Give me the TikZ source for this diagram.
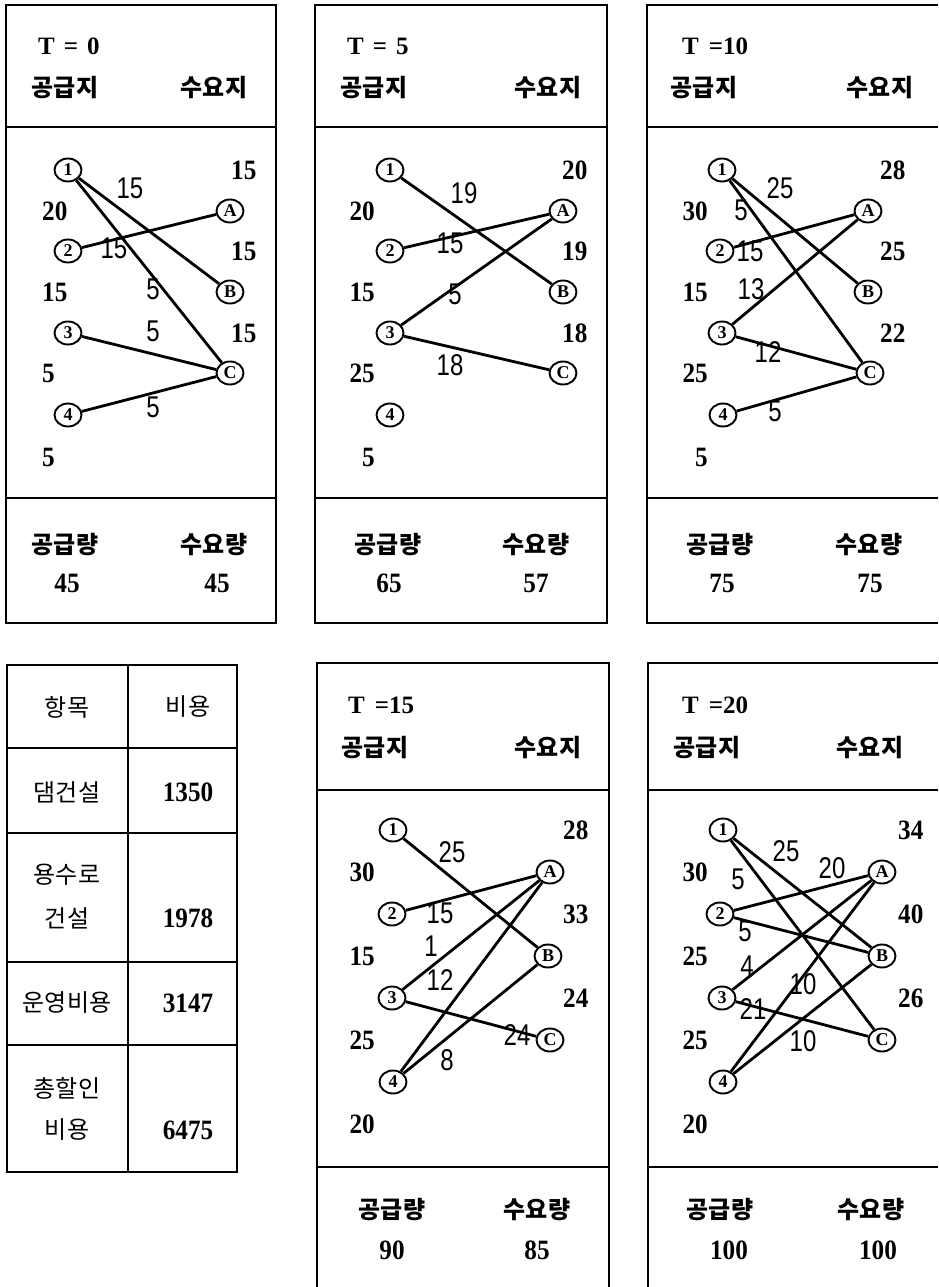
\documentclass[tikz,border=0pt]{standalone}
\usepackage{fontspec}
\usetikzlibrary{shapes.geometric}
\newfontfamily\krfam[LetterSpace=2]{Noto Sans CJK KR}
\newfontfamily\lsserif[FakeStretch=0.9]{Liberation Serif}
\newfontfamily\lsserifT{Liberation Serif}
\newfontfamily\lssans[FakeStretch=0.8]{Liberation Sans}
\newcommand\rkNum{\lsserif\bfseries\fontsize{28}{28}\selectfont}
\newcommand\rkTtl{\lsserifT\bfseries\fontsize{25}{25}\selectfont}
\newcommand\rkLbl{\lssans\fontsize{30}{30}\selectfont}
\newcommand\rkKor{\krfam\bfseries\fontsize{24}{24}\selectfont}
\newcommand\rkKorT{\krfam\fontsize{24}{24}\selectfont}
\newcommand\rkSite{\lsserifT\bfseries\fontsize{18}{18}\selectfont}
\tikzset{
  frame/.style={line width=1.7pt},
  site/.style={draw, ellipse, line width=1.9pt, minimum width=27pt, minimum height=23pt, inner sep=0pt, font=\rkSite},
  flow/.style={line width=2.8pt},
  lbl/.style={font=\rkLbl, inner sep=0pt},
  qty/.style={font=\rkNum, inner sep=0pt},
  kor/.style={font=\rkKor, inner sep=0pt},
  cell/.style={font=\rkKorT, inner sep=0pt},
  ttl/.style={font=\rkTtl, anchor=west, inner sep=0pt},
}
\begin{document}
\begin{tikzpicture}[x=1pt,y=-1pt]
\useasboundingbox (0,0) rectangle (938,1287);
\fill[white] (0,0) rectangle (938,1287);

% ---------- frames ----------
\draw[frame] (6,5) rectangle (276,623);
\draw[frame] (6,127) -- (276,127);
\draw[frame] (6,498) -- (276,498);
\draw[frame] (315,5) rectangle (607,623);
\draw[frame] (315,127) -- (607,127);
\draw[frame] (315,498) -- (607,498);
\draw[frame] (938,5) -- (647,5) -- (647,623) -- (938,623);
\draw[frame] (647,127) -- (938,127);
\draw[frame] (647,498) -- (938,498);
\draw[frame] (317,1287) -- (317,663) -- (609,663) -- (609,1287);
\draw[frame] (317,790) -- (609,790);
\draw[frame] (317,1167) -- (609,1167);
\draw[frame] (648,1287) -- (648,663) -- (938,663);
\draw[frame] (648,790) -- (938,790);
\draw[frame] (648,1167) -- (938,1167);
% table
\draw[frame] (7,665) rectangle (237,1172);
\draw[frame] (128,665) -- (128,1172);
\foreach \yy in {748,833,962,1045} \draw[frame] (7,\yy) -- (237,\yy);

% ---------- table text ----------
\node[cell] (h1) at (67,707) {항목};
\node[cell] (h2) at (188,707) {비용};
\node[cell] (c1) at (67,792) {댐건설};
\node[qty] (v1) at (188,792) {1350};
\node[cell] (c2a) at (67,875) {용수로};
\node[cell] (c2b) at (67,918) {건설};
\node[qty] (v2) at (188,918) {1978};
\node[cell] (c3) at (67,1003) {운영비용};
\node[qty] (v3) at (188,1003) {3147};
\node[cell] (c4a) at (67,1088) {총할인};
\node[cell] (c4b) at (67,1130) {비용};
\node[qty] (v4) at (188,1130) {6475};

% ---------- panel T=0 ----------
\node[ttl] (pT) at (38,46) {T\hspace{9pt}=\hspace{9pt}0};
\node[kor] (pS) at (65,88) {공급지};
\node[kor] (pD) at (214,88) {수요지};
\node[site] (p1) at (68,170) {1};
\node[site] (p2) at (68,251) {2};
\node[site] (p3) at (68,333) {3};
\node[site] (p4) at (68,415) {4};
\node[site] (pA) at (230,211) {A};
\node[site] (pB) at (230,292) {B};
\node[site] (pC) at (230,373) {C};
\node[qty,anchor=west] (ps1) at (42,211) {20};
\node[qty,anchor=west] (ps2) at (42,292) {15};
\node[qty,anchor=west] (ps3) at (42,373) {5};
\node[qty,anchor=west] (ps4) at (42,457) {5};
\node[qty,anchor=west] (pdA) at (231,170) {15};
\node[qty,anchor=west] (pdB) at (231,251) {15};
\node[qty,anchor=west] (pdC) at (231,333) {15};
\draw[flow] (p1) -- (pB);
\draw[flow] (p1) -- (pC);
\draw[flow] (p2) -- (pA);
\draw[flow] (p3) -- (pC);
\draw[flow] (p4) -- (pC);
\node[lbl] (pl1) at (130,188) {15};
\node[lbl] (pl2) at (114,248) {15};
\node[lbl] (pl3) at (153,289) {5};
\node[lbl] (pl4) at (153,331) {5};
\node[lbl] (pl5) at (153,407) {5};
\node[kor] (pSQ) at (65,545) {공급량};
\node[kor] (pDQ) at (214,545) {수요량};
\node[qty] (pSV) at (67,583) {45};
\node[qty] (pDV) at (217,583) {45};

% ---------- panel T=5 ----------
\node[ttl] (qT) at (347,46) {T\hspace{9pt}=\hspace{9pt}5};
\node[kor] (qS) at (374,88) {공급지};
\node[kor] (qD) at (548,88) {수요지};
\node[site] (q1) at (390,170) {1};
\node[site] (q2) at (390,251) {2};
\node[site] (q3) at (390,333) {3};
\node[site] (q4) at (390,415) {4};
\node[site] (qA) at (563,211) {A};
\node[site] (qB) at (563,292) {B};
\node[site] (qC) at (563,373) {C};
\node[qty,anchor=east] (qs1) at (375,211) {20};
\node[qty,anchor=east] (qs2) at (375,292) {15};
\node[qty,anchor=east] (qs3) at (375,373) {25};
\node[qty,anchor=east] (qs4) at (375,457) {5};
\node[qty,anchor=west] (qdA) at (562,170) {20};
\node[qty,anchor=west] (qdB) at (562,251) {19};
\node[qty,anchor=west] (qdC) at (562,333) {18};
\draw[flow] (q1) -- (qB);
\draw[flow] (q2) -- (qA);
\draw[flow] (q3) -- (qA);
\draw[flow] (q3) -- (qC);
\node[lbl] (ql1) at (464,193) {19};
\node[lbl] (ql2) at (450,243) {15};
\node[lbl] (ql3) at (455,294) {5};
\node[lbl] (ql4) at (450,365) {18};
\node[kor] (qSQ) at (388,545) {공급량};
\node[kor] (qDQ) at (536,545) {수요량};
\node[qty] (qSV) at (389,583) {65};
\node[qty] (qDV) at (536,583) {57};

% ---------- panel T=10 ----------
\node[ttl] (rT) at (682,46) {T\hspace{10pt}=10};
\node[kor] (rS) at (704,88) {공급지};
\node[kor] (rD) at (880,88) {수요지};
\node[site] (r1) at (722,170) {1};
\node[site] (r2) at (720,251) {2};
\node[site] (r3) at (722,333) {3};
\node[site] (r4) at (723,415) {4};
\node[site] (rA) at (868,211) {A};
\node[site] (rB) at (868,292) {B};
\node[site] (rC) at (870,373) {C};
\node[qty,anchor=east] (rs1) at (708,211) {30};
\node[qty,anchor=east] (rs2) at (708,292) {15};
\node[qty,anchor=east] (rs3) at (708,373) {25};
\node[qty,anchor=east] (rs4) at (708,457) {5};
\node[qty,anchor=west] (rdA) at (880,170) {28};
\node[qty,anchor=west] (rdB) at (880,251) {25};
\node[qty,anchor=west] (rdC) at (880,333) {22};
\draw[flow] (r1) -- (rB);
\draw[flow] (r1) -- (rC);
\draw[flow] (r2) -- (rA);
\draw[flow] (r3) -- (rA);
\draw[flow] (r3) -- (rC);
\draw[flow] (r4) -- (rC);
\node[lbl] (rl1) at (780,188) {25};
\node[lbl] (rl2) at (741,210) {5};
\node[lbl] (rl3) at (750,251) {15};
\node[lbl] (rl4) at (751,289) {13};
\node[lbl] (rl5) at (768,352) {12};
\node[lbl] (rl6) at (775,411) {5};
\node[kor] (rSQ) at (720,545) {공급량};
\node[kor] (rDQ) at (869,545) {수요량};
\node[qty] (rSV) at (722,583) {75};
\node[qty] (rDV) at (870,583) {75};

% ---------- panel T=15 ----------
\node[ttl] (sT) at (348,705) {T\hspace{10pt}=15};
\node[kor] (sS) at (375,748) {공급지};
\node[kor] (sD) at (548,748) {수요지};
\node[site] (s1) at (393,830) {1};
\node[site] (s2) at (392,914) {2};
\node[site] (s3) at (392,998) {3};
\node[site] (s4) at (393,1082) {4};
\node[site] (sA) at (550,872) {A};
\node[site] (sB) at (548,956) {B};
\node[site] (sC) at (550,1040) {C};
\node[qty,anchor=east] (ss1) at (375,872) {30};
\node[qty,anchor=east] (ss2) at (375,956) {15};
\node[qty,anchor=east] (ss3) at (375,1040) {25};
\node[qty,anchor=east] (ss4) at (375,1124) {20};
\node[qty,anchor=west] (sdA) at (563,830) {28};
\node[qty,anchor=west] (sdB) at (563,914) {33};
\node[qty,anchor=west] (sdC) at (563,998) {24};
\draw[flow] (s1) -- (sB);
\draw[flow] (s2) -- (sA);
\draw[flow] (s3) -- (sA);
\draw[flow] (s4) -- (sA);
\draw[flow] (s4) -- (sB);
\draw[flow] (s3) -- (sC);
\node[lbl] (sl1) at (452,852) {25};
\node[lbl] (sl2) at (440,913) {15};
\node[lbl] (sl3) at (431,946) {1};
\node[lbl] (sl4) at (440,980) {12};
\node[lbl] (sl5) at (517,1035) {24};
\node[lbl] (sl6) at (447,1060) {8};
\node[kor] (sSQ) at (392,1210) {공급량};
\node[kor] (sDQ) at (537,1210) {수요량};
\node[qty] (sSV) at (392,1250) {90};
\node[qty] (sDV) at (537,1250) {85};

% ---------- panel T=20 ----------
\node[ttl] (tT) at (682,705) {T\hspace{10pt}=20};
\node[kor] (tS) at (707,748) {공급지};
\node[kor] (tD) at (870,748) {수요지};
\node[site] (t1) at (723,830) {1};
\node[site] (t2) at (720,914) {2};
\node[site] (t3) at (722,998) {3};
\node[site] (t4) at (723,1082) {4};
\node[site] (tA) at (882,872) {A};
\node[site] (tB) at (882,956) {B};
\node[site] (tC) at (882,1040) {C};
\node[qty,anchor=east] (ts1) at (708,872) {30};
\node[qty,anchor=east] (ts2) at (708,956) {25};
\node[qty,anchor=east] (ts3) at (708,1040) {25};
\node[qty,anchor=east] (ts4) at (708,1124) {20};
\node[qty,anchor=west] (tdA) at (898,830) {34};
\node[qty,anchor=west] (tdB) at (898,914) {40};
\node[qty,anchor=west] (tdC) at (898,998) {26};
\draw[flow] (t1) -- (tB);
\draw[flow] (t1) -- (tC);
\draw[flow] (t2) -- (tA);
\draw[flow] (t2) -- (tB);
\draw[flow] (t3) -- (tA);
\draw[flow] (t3) -- (tC);
\draw[flow] (t4) -- (tA);
\draw[flow] (t4) -- (tB);
\node[lbl] (tl1) at (786,851) {25};
\node[lbl] (tl2) at (832,868) {20};
\node[lbl] (tl3) at (738,879) {5};
\node[lbl] (tl4) at (745,931) {5};
\node[lbl] (tl5) at (747,966) {4};
\node[lbl] (tl6) at (803,984) {10};
\node[lbl] (tl7) at (753,1009) {21};
\node[lbl] (tl8) at (803,1041) {10};
\node[kor] (tSQ) at (720,1210) {공급량};
\node[kor] (tDQ) at (871,1210) {수요량};
\node[qty] (tSV) at (729,1250) {100};
\node[qty] (tDV) at (878,1250) {100};
\end{tikzpicture}
\end{document}
